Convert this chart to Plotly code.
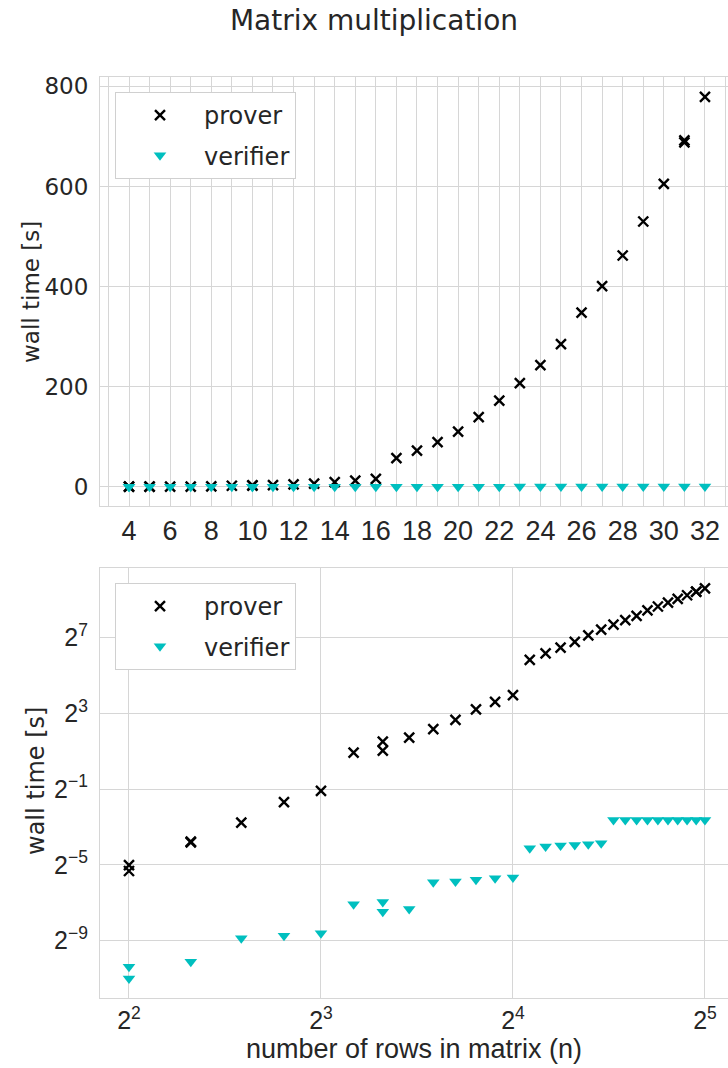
import plotly.graph_objects as go
import numpy as np

# ---- data ----
n_rows = list(range(4, 33))
prover_time = [0.031, 0.071, 0.147, 0.31, 0.47, 1.91, 2.85, 3.3, 4.5, 6.3,
               9.3, 12.2, 15.6, 57, 72, 89, 110, 139, 172, 207,
               243, 285, 348, 401, 462, 530, 605, 688, 779]
verifier_time = [0.00075, 0.00090, 0.00214, 0.00234, 0.00256, 0.0074, 0.0080,
                 0.0062, 0.0166, 0.0170, 0.0181, 0.0192, 0.0197, 0.0576,
                 0.061, 0.0634, 0.065, 0.0666, 0.069, 0.161, 0.161, 0.161,
                 0.161, 0.161, 0.161, 0.161, 0.161, 0.161, 0.161]
# repeated measurements
prover_extra_n = [4, 5, 10, 31]
prover_extra_t = [0.025, 0.073, 2.05, 692]
verifier_extra_n = [4, 10]
verifier_extra_t = [0.00049, 0.0056]

x_lin_ticks = list(range(4, 33, 2))
y_lin_ticks = [0, 200, 400, 600, 800]
x_log_exps = [2, 3, 4, 5]
y_log_exps = [-9, -5, -1, 3, 7]

px_n = n_rows + prover_extra_n
px_t = prover_time + prover_extra_t
vx_n = n_rows + verifier_extra_n
vx_t = verifier_time + verifier_extra_t

BLACK = "#000000"
CYAN = "#00bfbf"
GRID = "#d6d6d6"
TXT = "#262626"
WIDE = "DejaVu Sans"
ARIAL = "Liberation Sans"

fig = go.Figure()

prover_marker = dict(symbol="x-thin", size=10, line=dict(width=2.4, color=BLACK), color=BLACK)
verifier_marker = dict(symbol="triangle-down", size=11, color=CYAN, line=dict(width=0))

fig.add_trace(go.Scatter(x=px_n, y=px_t, mode="markers", name="prover", legendgroup="p",
                         marker=prover_marker, xaxis="x", yaxis="y", legend="legend"))
fig.add_trace(go.Scatter(x=vx_n, y=vx_t, mode="markers", name="verifier", legendgroup="v",
                         marker=verifier_marker, xaxis="x", yaxis="y", legend="legend"))
fig.add_trace(go.Scatter(x=px_n, y=px_t, mode="markers", name="prover", legendgroup="p2",
                         marker=prover_marker, xaxis="x2", yaxis="y2", legend="legend2"))
fig.add_trace(go.Scatter(x=vx_n, y=vx_t, mode="markers", name="verifier", legendgroup="v2",
                         marker=verifier_marker, xaxis="x2", yaxis="y2", legend="legend2"))

H = 1068
top_px, bot_px = 77, 998
ph = bot_px - top_px
def py(pix):
    return (bot_px - pix) / ph
def pxx(pix):
    return (pix - 100) / 628

axis_common = dict(showgrid=True, gridcolor=GRID, gridwidth=1.2, zeroline=False,
                   linecolor=GRID, linewidth=1.2, ticks="", color=TXT)

legend_common = dict(xanchor="left", yanchor="top", bgcolor="white",
                     bordercolor="#d0d0d0", borderwidth=1,
                     font=dict(family=WIDE, size=24, color=TXT),
                     itemwidth=78, tracegroupgap=6)

fig.update_layout(
    width=728, height=H,
    margin=dict(l=100, r=0, t=top_px, b=H - bot_px),
    paper_bgcolor="white", plot_bgcolor="white",
    font=dict(family=WIDE, size=22, color=TXT),
    title=dict(text="Matrix multiplication", x=374 / 728, xanchor="center",
               y=1 - 20 / H, yanchor="middle", font=dict(family=WIDE, size=28, color=TXT)),
    xaxis=dict(**axis_common, domain=[0, 1], anchor="y", range=[2.59, 33.12],
               tickmode="array", tickvals=x_lin_ticks,
               ticktext=[str(v) for v in x_lin_ticks],
               tickfont=dict(family=ARIAL, size=27),
               minor=dict(dtick=1, tick0=0, showgrid=True, gridcolor=GRID, gridwidth=1.2),
               showline=True, mirror=True),
    yaxis=dict(**axis_common, domain=[py(506), 1], anchor="x", range=[-38.6, 818.8],
               tickmode="array", tickvals=y_lin_ticks, ticktext=[str(v) for v in y_lin_ticks],
               tickfont=dict(family=WIDE, size=23),
               showline=True, ticklabelstandoff=6),
    xaxis2=dict(**axis_common, domain=[0, 1], anchor="y2", type="log",
                range=[1.849 * np.log10(2), 5.12 * np.log10(2)],
                tickmode="array", tickvals=[2 ** e for e in x_log_exps],
                ticktext=[f"2<sup>{e}</sup>" for e in x_log_exps],
                tickfont=dict(family=ARIAL, size=25),
                title=dict(text="number of rows in matrix (n)", standoff=6,
                           font=dict(family=ARIAL, size=27)),
                showline=True, mirror=True),
    yaxis2=dict(**axis_common, domain=[0, py(568)], anchor="x2", type="log",
                range=[-12.03 * np.log10(2), 10.68 * np.log10(2)],
                tickmode="array", tickvals=[2.0 ** e for e in y_log_exps],
                ticktext=[f"2<sup>\u2212{-e}</sup>" if e < 0 else f"2<sup>{e}</sup>" for e in y_log_exps],
                tickfont=dict(family=ARIAL, size=25),
                showline=True, ticklabelstandoff=6),
    legend=dict(**legend_common, x=15 / 628, y=py(92)),
    legend2=dict(**legend_common, x=15 / 628, y=py(583)),
    annotations=[
        dict(text="wall time [s]", xref="paper", yref="paper", x=pxx(31), y=py(292),
             xanchor="center", yanchor="middle", textangle=-90, showarrow=False,
             font=dict(family=WIDE, size=23, color=TXT)),
        dict(text="wall time [s]", xref="paper", yref="paper", x=pxx(36), y=py(781),
             xanchor="center", yanchor="middle", textangle=-90, showarrow=False,
             font=dict(family=WIDE, size=24, color=TXT)),
    ],
)

fig.write_html("out.html", config={"displayModeBar": False},
               post_script="document.body.style.margin='0';")
